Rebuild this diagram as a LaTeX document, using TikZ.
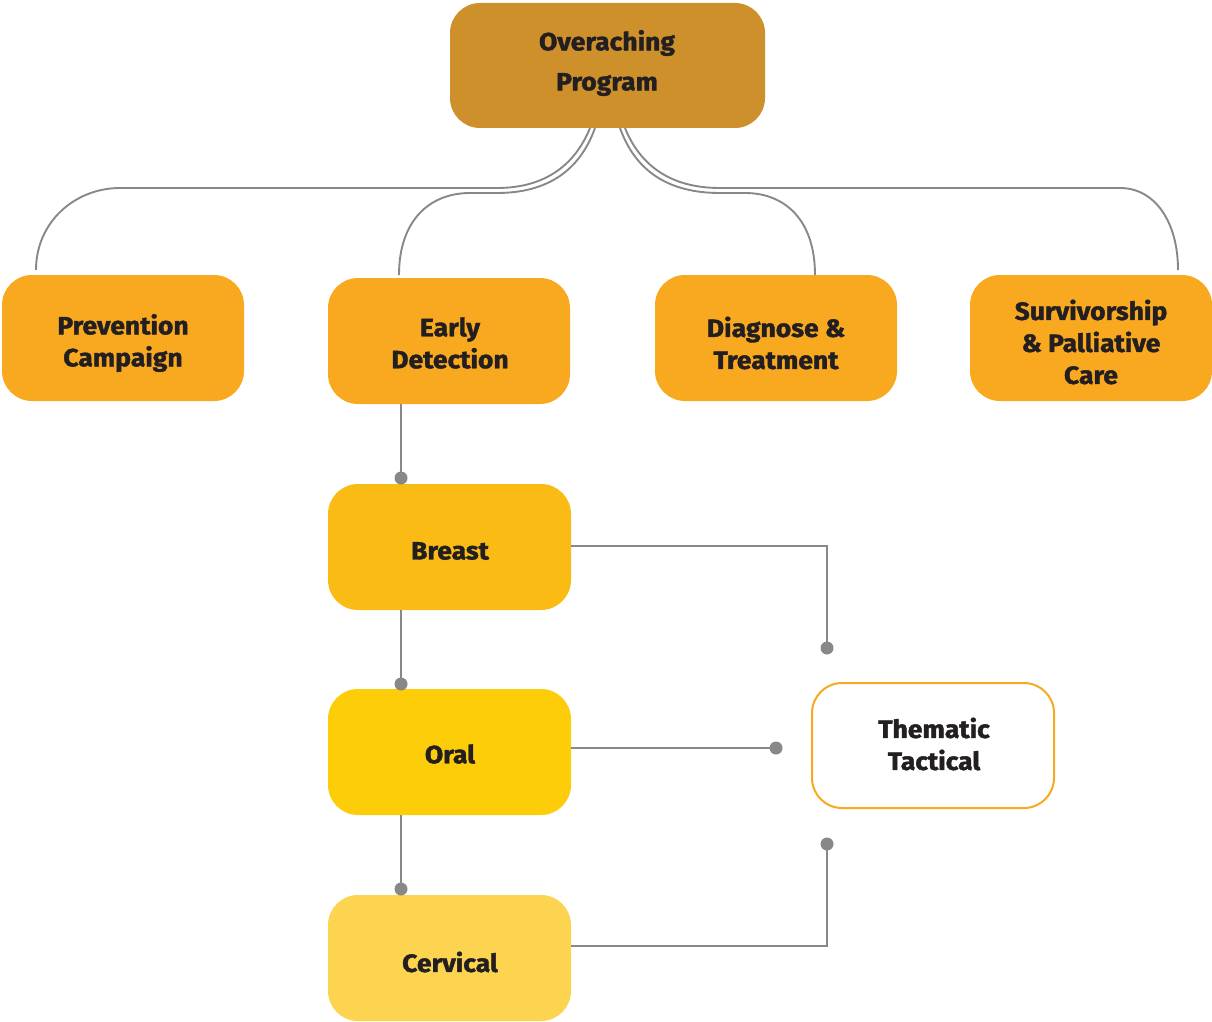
\documentclass[tikz,border=0pt]{standalone}
\usepackage{fontspec}
\setmainfont{Fira Sans}[BoldFeatures={FakeBold=1.6,FakeStretch=1.06}]
\begin{document}
\begin{tikzpicture}[x=1pt,y=-1pt,
  box/.style={text=txt,font=\bfseries\fontsize{25}{32}\selectfont,align=center},
  conn/.style={draw=lineg,line width=1.9pt},
  plate/.style={rounded corners=30pt}]
\definecolor{txt}{HTML}{231F20}
\definecolor{lineg}{HTML}{888888}
\definecolor{top}{HTML}{CD902A}
\definecolor{lvl}{HTML}{F9A91F}
\definecolor{brc}{HTML}{FBBB15}
\definecolor{orc}{HTML}{FDCD0A}
\definecolor{cvc}{HTML}{FDD44F}
\useasboundingbox (0,0) rectangle (1212,1022);
% boxes
\fill[top,plate] (450,3) rectangle (765,128);
\node[box,font=\bfseries\fontsize{25}{40}\selectfont] (over) at (607,63) {Overaching\\Program};
\fill[lvl,plate] (2,275) rectangle (244,401);
\node[box] (prev) at (123,343) {Prevention\\Campaign};
\fill[lvl,plate] (328,278) rectangle (570,404);
\node[box] (early) at (450,343) {Early\\Detection};
\fill[lvl,plate] (655,275) rectangle (897,401);
\node[box] (diag) at (776,343) {Diagnose \&\\Treatment};
\fill[lvl,plate] (970,275) rectangle (1212,401);
\node[box] (surv) at (1091,342) {Survivorship\\\& Palliative\\Care};
\fill[brc,plate] (328,484) rectangle (571,610);
\node[box] (breast) at (450,551) {Breast};
\fill[orc,plate] (328,689) rectangle (571,815);
\node[box] (oral) at (450,754) {Oral};
\fill[cvc,plate] (328,895) rectangle (571,1021);
\node[box] (cerv) at (450,962) {Cervical};
\path[draw=lvl,line width=2pt,fill=white,plate] (812,683) rectangle (1054,808);
\node[box] (them) at (934,744) {Thematic\\Tactical};
% anchors
\coordinate (ot1) at (590,128); \coordinate (ot2) at (595,128);
\coordinate (ot3) at (620,128); \coordinate (ot4) at (625,128);
\coordinate (pt) at (36,270); \coordinate (et) at (399,275);
\coordinate (dt) at (815,275); \coordinate (st) at (1178,270);
% top connectors
\draw[conn] (ot1) .. controls (575,165) and (545,188) .. (497,188) -- (120,188)
  .. controls (75,188) and (36,222) .. (pt);
\draw[conn] (ot2) .. controls (580,170) and (548,193) .. (497,193) -- (470,193)
  .. controls (430,193) and (399,220) .. (et);
\draw[conn] (ot3) .. controls (635,170) and (667,193) .. (720,193) -- (745,193)
  .. controls (785,193) and (815,220) .. (dt);
\draw[conn] (ot4) .. controls (640,165) and (670,188) .. (720,188) -- (1120,188)
  .. controls (1155,188) and (1178,222) .. (st);
% vertical chain
\coordinate (d1) at (401,478); \coordinate (d2) at (401,684); \coordinate (d3) at (401,889);
\draw[conn] (401,404) -- (d1);
\draw[conn] (401,610) -- (d2);
\draw[conn] (401,815) -- (d3);
\fill[lineg] (d1) circle (6.5pt) (d2) circle (6.5pt) (d3) circle (6.5pt);
% side connectors
\coordinate (d4) at (827,648); \coordinate (d5) at (776,748); \coordinate (d6) at (827,844);
\draw[conn] (571,546) -- (827,546) -- (d4);
\draw[conn] (571,748) -- (d5);
\draw[conn] (571,946) -- (827,946) -- (d6);
\fill[lineg] (d4) circle (6.5pt) (d5) circle (6.5pt) (d6) circle (6.5pt);
\end{tikzpicture}
\end{document}
